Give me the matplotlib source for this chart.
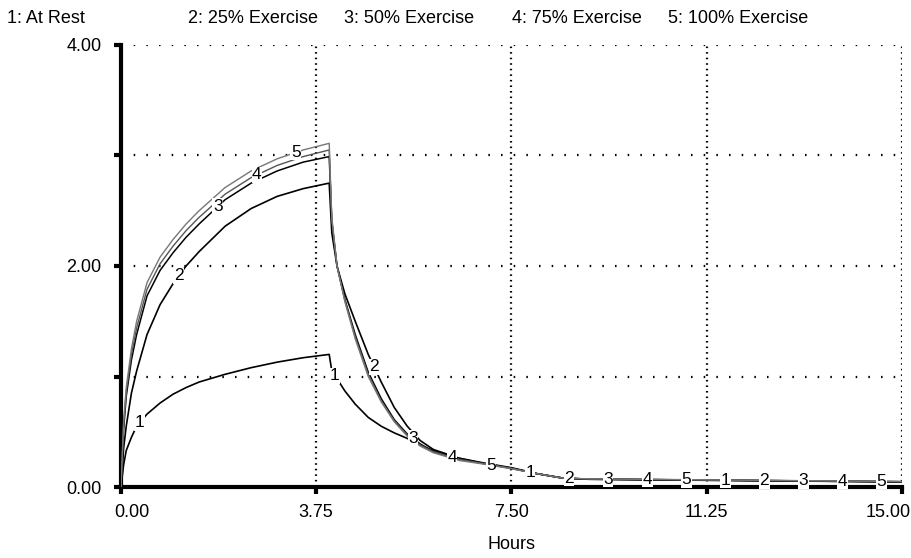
import matplotlib
matplotlib.use("Agg")
import matplotlib.pyplot as plt
import matplotlib.transforms as mtransforms
import numpy as np

plt.rcParams['font.family'] = ['Liberation Sans', 'DejaVu Sans']

# time axis (hours) shared by all runs
t = [0, 0.05, 0.1, 0.2, 0.3, 0.5, 0.75, 1.0, 1.25, 1.5, 2.0, 2.5, 3.0, 3.5, 4.0,
     4.05, 4.15, 4.3, 4.5, 4.75, 5.0, 5.25, 5.5, 5.75, 6.0, 6.5, 7.0, 7.5, 8.0,
     8.5, 9.0, 10.0, 11.0, 12.0, 13.0, 14.0, 15.0]

at_rest = [0, 0.20, 0.33, 0.45, 0.55, 0.66, 0.76, 0.84, 0.90, 0.95, 1.02, 1.08, 1.13, 1.17, 1.20,
           1.05, 0.98, 0.87, 0.75, 0.63, 0.55, 0.49, 0.44, 0.38, 0.33, 0.26, 0.21, 0.17, 0.12,
           0.08, 0.070, 0.066, 0.062, 0.058, 0.054, 0.050, 0.046]
ex25 = [0, 0.35, 0.55, 0.85, 1.05, 1.38, 1.65, 1.84, 2.00, 2.13, 2.36, 2.52, 2.63, 2.70, 2.75,
        2.30, 2.00, 1.75, 1.50, 1.20, 0.95, 0.72, 0.55, 0.42, 0.34, 0.26, 0.215, 0.175, 0.12,
        0.08, 0.071, 0.067, 0.063, 0.059, 0.055, 0.051, 0.047]
ex50 = [0, 0.52, 0.82, 1.15, 1.38, 1.73, 1.96, 2.12, 2.26, 2.38, 2.60, 2.75, 2.86, 2.94, 2.99,
        2.40, 2.00, 1.70, 1.38, 1.04, 0.80, 0.61, 0.48, 0.39, 0.32, 0.25, 0.21, 0.17, 0.12,
        0.08, 0.072, 0.068, 0.064, 0.060, 0.056, 0.052, 0.048]
ex75 = [0, 0.56, 0.86, 1.20, 1.44, 1.79, 2.02, 2.18, 2.32, 2.44, 2.65, 2.80, 2.91, 2.99, 3.05,
        2.42, 2.00, 1.69, 1.36, 1.02, 0.78, 0.60, 0.47, 0.38, 0.32, 0.25, 0.21, 0.17, 0.12,
        0.08, 0.073, 0.069, 0.065, 0.061, 0.057, 0.053, 0.049]
ex100 = [0, 0.60, 0.90, 1.25, 1.50, 1.85, 2.08, 2.24, 2.38, 2.50, 2.71, 2.86, 2.97, 3.05, 3.11,
         2.44, 2.00, 1.68, 1.34, 1.00, 0.77, 0.59, 0.46, 0.37, 0.31, 0.24, 0.205, 0.165, 0.12,
         0.08, 0.074, 0.070, 0.066, 0.062, 0.058, 0.054, 0.050]

names = ["At Rest", "25% Exercise", "50% Exercise", "75% Exercise", "100% Exercise"]
runs = [at_rest, ex25, ex50, ex75, ex100]
styles = [("black", 1.2), ("black", 1.2), ("black", 1.1), ("#555555", 1.0), ("#777777", 1.0)]

xticks = [0, 3.75, 7.5, 11.25, 15]
yticks = [0, 1, 2, 3, 4]
ylabels = ["0.00", "", "2.00", "", "4.00"]

fig = plt.figure(figsize=(9.12, 5.58), dpi=100)
ax = fig.add_axes([0.1327, 0.1272, 0.856, 0.7922])

for vals, (col, lw) in zip(runs, styles):
    ax.plot(t, vals, color=col, lw=lw, zorder=3)

# numbered curve markers every 0.75 h, cycling through the runs
for k in range(20):
    tk = 0.36 + 0.75 * k
    i = k % 5
    yk = np.interp(tk, t, runs[i])
    ax.text(tk, yk, str(i + 1), fontsize=12.5, ha="center", va="center", zorder=4,
            bbox=dict(boxstyle="square,pad=0.03", fc="white", ec="none"))

# dotted grid
for yv in [1, 2, 3, 4]:
    ax.axhline(yv, color="black", lw=1.6, ls=(0, (0.7, 5)), zorder=1)
for xv in [3.75, 7.5, 11.25, 15]:
    ax.axvline(xv, color="black", lw=1.6, ls=(0, (0.7, 1.8)), zorder=1)

ax.set_xlim(0, 15)
ax.set_ylim(0, 4)
ax.set_xticks(xticks)
ax.set_xticklabels(["%.2f" % v for v in xticks])
ax.set_yticks(yticks)
ax.set_yticklabels(ylabels)
ax.tick_params(axis="both", direction="out", length=5, width=3, labelsize=13)
ax.tick_params(axis="y", pad=9)
ax.tick_params(axis="x", pad=7)

# nudge the end labels inward like the original layout
xl = ax.get_xticklabels()
xl[0].set_transform(xl[0].get_transform() +
                    mtransforms.ScaledTranslation(0.11, 0, fig.dpi_scale_trans))
xl[-1].set_transform(xl[-1].get_transform() +
                     mtransforms.ScaledTranslation(-0.14, 0, fig.dpi_scale_trans))

for s in ["top", "right"]:
    ax.spines[s].set_visible(False)
ax.spines["left"].set_linewidth(3)
ax.spines["bottom"].set_linewidth(3)

ax.set_xlabel("Hours", fontsize=13, labelpad=11)

# legend row along the top
lx = [7, 188, 344, 512, 668]
for i, name in enumerate(names):
    fig.text(lx[i] / 912, 1 - 23 / 558, "%d: %s" % (i + 1, name), fontsize=13,
             ha="left", va="baseline")

fig.savefig("out.png", dpi=100)
